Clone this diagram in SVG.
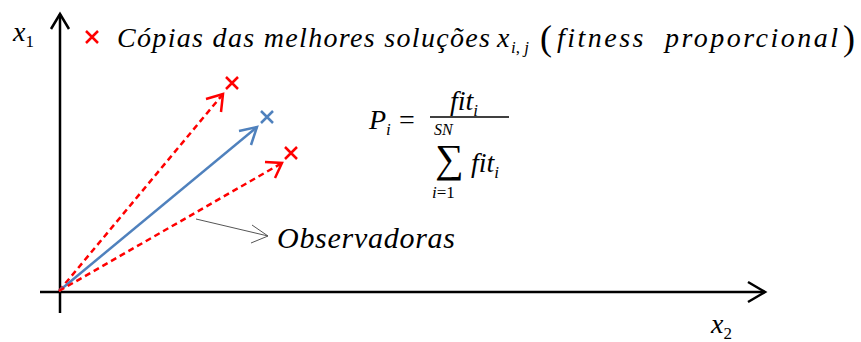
<svg xmlns="http://www.w3.org/2000/svg" width="861" height="342" viewBox="0 0 861 342" font-family="Liberation Serif">
<g id="axes" stroke="#000" stroke-width="2.5" fill="none">
<line x1="60" y1="14" x2="60" y2="313"/>
<polyline points="51,29 60,14 69,29"/>
<line x1="40" y1="292" x2="765" y2="292"/>
<polyline points="748,282 765,292 748,302"/>
</g>
<g id="connectors" stroke-width="2.5" fill="none">
<line stroke="#ff0000" stroke-dasharray="6 4" x1="59" y1="291" x2="223" y2="94"/>
<polyline stroke="#ff0000" points="206,99 223,94 221,112"/>
<line stroke="#4f81bd" x1="59" y1="291" x2="257" y2="127"/>
<polyline stroke="#4f81bd" points="239,131 257,127 251,145"/>
<line stroke="#ff0000" stroke-dasharray="6 4" x1="59" y1="291" x2="282" y2="163"/>
<polyline stroke="#ff0000" points="265,162 282,163 275,178"/>
<line x1="196" y1="219" x2="268" y2="236" stroke="#555" stroke-width="1"/>
<polyline points="252,225 268,236 251,243" stroke="#555" stroke-width="1"/>
</g>
<g id="crosses" stroke-width="2.5">
<path stroke="#ff0000" d="M226,77 L238,89 M238,77 L226,89"/>
<path stroke="#4f81bd" d="M261,111 L273,123 M273,111 L261,123"/>
<path stroke="#ff0000" d="M285,147 L297,159 M297,147 L285,159"/>
<path stroke="#ff0000" d="M86,31 L98,43 M98,31 L86,43"/>
</g>
<g id="title">
<text font-family="Liberation Serif" font-style="italic" x="117" y="47" font-size="28" textLength="373" lengthAdjust="spacing">Cópias das melhores soluções</text>
<text font-family="Liberation Serif" font-style="italic" x="497" y="47" font-size="28">x</text>
<text font-family="Liberation Serif" font-style="italic" x="511" y="53" font-size="17">i<tspan font-style="normal">,</tspan> j</text>
<text font-family="Liberation Serif" x="540" y="50" font-size="36">(</text>
<text font-family="Liberation Serif" font-style="italic" x="557" y="47" font-size="28" textLength="281" lengthAdjust="spacing" xml:space="preserve">fitness  proporcional</text>
<text font-family="Liberation Serif" x="843" y="50" font-size="36">)</text>
</g>
<g id="labels">
<text font-family="Liberation Serif" font-style="italic" x="13" y="41" font-size="28">x<tspan font-style="normal" font-size="17" dy="6">1</tspan></text>
<text font-family="Liberation Serif" font-style="italic" x="711" y="333" font-size="28">x<tspan font-style="normal" font-size="17" dy="6">2</tspan></text>
<text font-family="Liberation Serif" font-style="italic" x="277" y="248" font-size="30" textLength="178" lengthAdjust="spacing">Observadoras</text>
</g>
<g id="formula">
<text font-family="Liberation Serif" font-style="italic" x="369" y="129" font-size="28">P<tspan font-size="17" dy="6">i</tspan></text>
<text font-family="Liberation Serif" x="399" y="129" font-size="28">=</text>
<text font-family="Liberation Serif" font-style="italic" x="450" y="110" font-size="28">fit<tspan font-size="17" dy="6">i</tspan></text>
<line x1="430" y1="117" x2="509" y2="117" stroke="#000" stroke-width="1.3"/>
<text font-family="Liberation Serif" font-style="italic" x="434" y="135" font-size="16">SN</text>
<text font-family="Liberation Serif" x="435" y="172" font-size="40">∑</text>
<text font-family="Liberation Serif" font-style="italic" x="471" y="172" font-size="28">fit<tspan font-size="17" dy="6">i</tspan></text>
<text font-family="Liberation Serif" font-style="italic" x="432" y="198" font-size="17">i<tspan font-style="normal">=1</tspan></text>
</g>
</svg>
